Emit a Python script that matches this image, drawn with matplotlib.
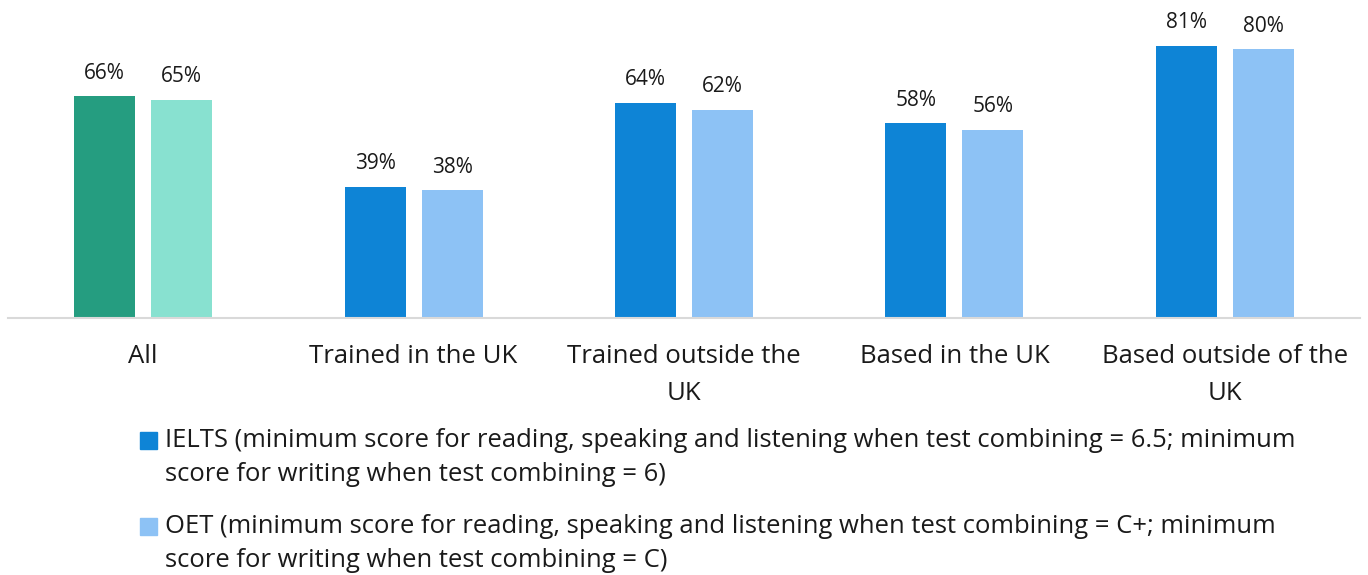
import matplotlib.pyplot as plt
from matplotlib.patches import Rectangle
import numpy as np

plt.rcParams['font.family'] = ['Open Sans', 'DejaVu Sans']

# Data
categories = ['All', 'Trained in the UK', 'Trained outside the\nUK',
              'Based in the UK', 'Based outside of the\nUK']
ielts = [66, 39, 64, 58, 81]
oet = [65, 38, 62, 56, 80]
ielts_colors = ['#259D80', '#0E84D6', '#0E84D6', '#0E84D6', '#0E84D6']
oet_colors = ['#88E1D0', '#8DC2F5', '#8DC2F5', '#8DC2F5', '#8DC2F5']
legend_labels = [
    'IELTS (minimum score for reading, speaking and listening when test combining = 6.5; minimum\n'
    'score for writing when test combining = 6)',
    'OET (minimum score for reading, speaking and listening when test combining = C+; minimum\n'
    'score for writing when test combining = C)',
]
legend_colors = ['#0E84D6', '#8DC2F5']

fig = plt.figure(figsize=(13.68, 5.75), dpi=100)
ax = fig.add_axes([8 / 1368, 257 / 575, 1352 / 1368, 300 / 575])

x = np.arange(len(categories))
w = 0.2256
off = 0.1424
b1 = ax.bar(x - off, ielts, w, color=ielts_colors)
b2 = ax.bar(x + off, oet, w, color=oet_colors)
for bars, vals in ((b1, ielts), (b2, oet)):
    for rect, v in zip(bars, vals):
        ax.annotate(f'{v}%', (rect.get_x() + rect.get_width() / 2, v),
                    xytext=(0, 9), textcoords='offset points',
                    ha='center', va='bottom', fontsize=15, color='#1a1a1a')

ax.set_xlim(-0.5, 4.5)
ax.set_ylim(0, 89.3)
ax.set_xticks(x)
ax.set_xticklabels(categories, fontsize=18.5, color='#1a1a1a', linespacing=1.6)
ax.tick_params(axis='x', length=0, pad=19)
ax.set_yticks([])
for s in ['top', 'right', 'left']:
    ax.spines[s].set_visible(False)
ax.spines['bottom'].set_color('#D9D9D9')
ax.spines['bottom'].set_linewidth(1.5)

# legend drawn by hand
W, H = 1368, 575
for i, (lab, col) in enumerate(zip(legend_labels, legend_colors)):
    yc = 440 + i * 86
    fig.patches.append(Rectangle((140 / W, 1 - (yc + 9) / H), 17 / W, 17 / H,
                                 transform=fig.transFigure, color=col))
    fig.text(165 / W, 1 - (yc - 12) / H, lab, fontsize=18.45, va='top', ha='left',
             color='#1a1a1a', linespacing=1.47)

fig.savefig('out.png', dpi=100)
